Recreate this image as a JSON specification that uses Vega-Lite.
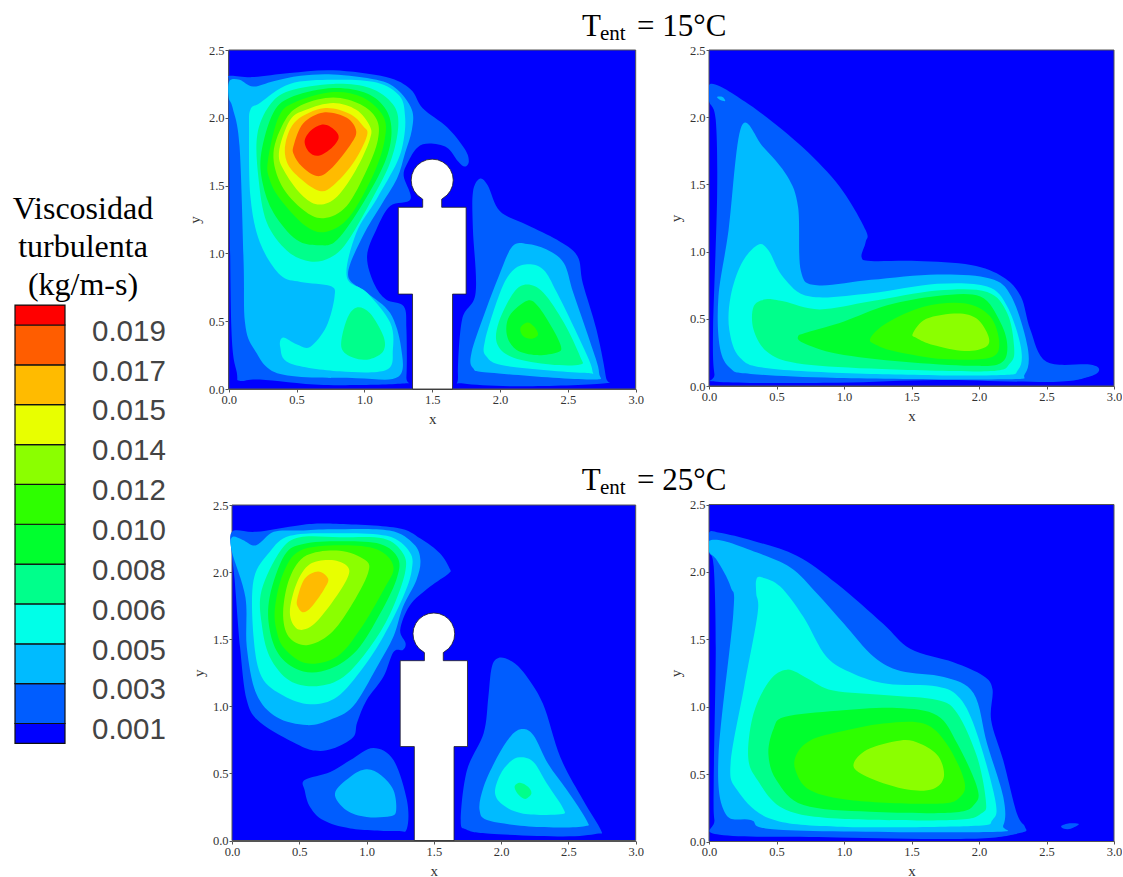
{"$schema":"https://vega.github.io/schema/vega-lite/v6.json","padding":0,"background":"white","config":{"view":{"stroke":null},"axis":{"labelFont":"Liberation Serif","labelFontSize":12.5,"labelColor":"#333","tickColor":"#555","domainColor":"#555","tickSize":3,"labelPadding":1,"labelFlush":false,"labelOverlap":false,"grid":false,"titleFont":"Liberation Serif","titleFontSize":15,"titleFontWeight":"normal","titleColor":"#333","titlePadding":6}},
"datasets":{
"frame":[{"x":0,"x2":3,"y":0,"y2":2.5}],
"fig":[{"x":1.355,"y":0},{"x":1.355,"y":0.7},{"x":1.25,"y":0.7},{"x":1.25,"y":1.34},{"x":1.43,"y":1.34},{"x":1.43,"y":1.4},{"x":1.39,"y":1.43},{"x":1.366,"y":1.462},{"x":1.35,"y":1.5},{"x":1.345,"y":1.54},{"x":1.35,"y":1.58},{"x":1.366,"y":1.618},{"x":1.39,"y":1.65},{"x":1.422,"y":1.674},{"x":1.46,"y":1.69},{"x":1.5,"y":1.695},{"x":1.54,"y":1.69},{"x":1.578,"y":1.674},{"x":1.61,"y":1.65},{"x":1.634,"y":1.618},{"x":1.65,"y":1.58},{"x":1.655,"y":1.54},{"x":1.65,"y":1.5},{"x":1.634,"y":1.462},{"x":1.61,"y":1.43},{"x":1.57,"y":1.4},{"x":1.57,"y":1.34},{"x":1.75,"y":1.34},{"x":1.75,"y":0.7},{"x":1.65,"y":0.7},{"x":1.65,"y":0},{"x":1.355,"y":0}],
"A":[
{"k":"a1","v":0.001,"x":0,"y":2.28},{"k":"a1","v":0.001,"x":0.01,"y":2.31},{"k":"a1","v":0.001,"x":0.18,"y":2.3},{"k":"a1","v":0.001,"x":0.45,"y":2.33},{"k":"a1","v":0.001,"x":0.77,"y":2.35},{"k":"a1","v":0.001,"x":1.16,"y":2.3},{"k":"a1","v":0.001,"x":1.34,"y":2.21},{"k":"a1","v":0.001,"x":1.43,"y":2.07},{"k":"a1","v":0.001,"x":1.61,"y":1.93},{"k":"a1","v":0.001,"x":1.74,"y":1.77},{"k":"a1","v":0.001,"x":1.77,"y":1.68},{"k":"a1","v":0.001,"x":1.74,"y":1.64},{"k":"a1","v":0.001,"x":1.69,"y":1.68},{"k":"a1","v":0.001,"x":1.61,"y":1.78},{"k":"a1","v":0.001,"x":1.48,"y":1.81},{"k":"a1","v":0.001,"x":1.39,"y":1.78},{"k":"a1","v":0.001,"x":1.32,"y":1.67},{"k":"a1","v":0.001,"x":1.29,"y":1.57},{"k":"a1","v":0.001,"x":1.34,"y":1.4},{"k":"a1","v":0.001,"x":1.19,"y":1.35},{"k":"a1","v":0.001,"x":1.09,"y":1.18},{"k":"a1","v":0.001,"x":1.02,"y":0.98},{"k":"a1","v":0.001,"x":1.07,"y":0.78},{"k":"a1","v":0.001,"x":1.16,"y":0.66},{"k":"a1","v":0.001,"x":1.29,"y":0.61},{"k":"a1","v":0.001,"x":1.31,"y":0.44},{"k":"a1","v":0.001,"x":1.31,"y":0.09},{"k":"a1","v":0.001,"x":1.28,"y":0.04},{"k":"a1","v":0.001,"x":0.7,"y":0.03},{"k":"a1","v":0.001,"x":0.23,"y":0.07},{"k":"a1","v":0.001,"x":0.08,"y":0.06},{"k":"a1","v":0.001,"x":0.06,"y":0.12},{"k":"a1","v":0.001,"x":0.02,"y":0.44},{"k":"a1","v":0.001,"x":0.005,"y":1.67},{"k":"a1","v":0.001,"x":0,"y":2.13},
{"k":"a2","v":0.001,"x":1.8,"y":1.45},{"k":"a2","v":0.001,"x":1.85,"y":1.55},{"k":"a2","v":0.001,"x":1.91,"y":1.5},{"k":"a2","v":0.001,"x":2,"y":1.31},{"k":"a2","v":0.001,"x":2.2,"y":1.21},{"k":"a2","v":0.001,"x":2.42,"y":1.1},{"k":"a2","v":0.001,"x":2.57,"y":0.98},{"k":"a2","v":0.001,"x":2.61,"y":0.78},{"k":"a2","v":0.001,"x":2.71,"y":0.44},{"k":"a2","v":0.001,"x":2.78,"y":0.09},{"k":"a2","v":0.001,"x":2.76,"y":0.04},{"k":"a2","v":0.001,"x":2.17,"y":0.02},{"k":"a2","v":0.001,"x":1.73,"y":0.04},{"k":"a2","v":0.001,"x":1.69,"y":0.09},{"k":"a2","v":0.001,"x":1.72,"y":0.51},{"k":"a2","v":0.001,"x":1.82,"y":0.71},{"k":"a2","v":0.001,"x":1.8,"y":1.18},
{"k":"a3","v":0.003,"x":0.005,"y":2.27},{"k":"a3","v":0.003,"x":0.08,"y":2.28},{"k":"a3","v":0.003,"x":0.18,"y":2.23},{"k":"a3","v":0.003,"x":0.33,"y":2.27},{"k":"a3","v":0.003,"x":0.53,"y":2.31},{"k":"a3","v":0.003,"x":0.77,"y":2.32},{"k":"a3","v":0.003,"x":1.09,"y":2.28},{"k":"a3","v":0.003,"x":1.24,"y":2.21},{"k":"a3","v":0.003,"x":1.35,"y":2.06},{"k":"a3","v":0.003,"x":1.35,"y":1.91},{"k":"a3","v":0.003,"x":1.3,"y":1.74},{"k":"a3","v":0.003,"x":1.24,"y":1.55},{"k":"a3","v":0.003,"x":1.12,"y":1.35},{"k":"a3","v":0.003,"x":0.99,"y":1.13},{"k":"a3","v":0.003,"x":0.88,"y":0.84},{"k":"a3","v":0.003,"x":1.02,"y":0.71},{"k":"a3","v":0.003,"x":1.19,"y":0.56},{"k":"a3","v":0.003,"x":1.27,"y":0.31},{"k":"a3","v":0.003,"x":1.25,"y":0.09},{"k":"a3","v":0.003,"x":0.94,"y":0.08},{"k":"a3","v":0.003,"x":0.38,"y":0.11},{"k":"a3","v":0.003,"x":0.19,"y":0.29},{"k":"a3","v":0.003,"x":0.12,"y":0.49},{"k":"a3","v":0.003,"x":0.11,"y":0.93},{"k":"a3","v":0.003,"x":0.08,"y":1.79},{"k":"a3","v":0.003,"x":0.03,"y":2.07},{"k":"a3","v":0.003,"x":0,"y":2.15},
{"k":"a4","v":0.003,"x":2.09,"y":1.05},{"k":"a4","v":0.003,"x":2.2,"y":1.07},{"k":"a4","v":0.003,"x":2.34,"y":1.03},{"k":"a4","v":0.003,"x":2.47,"y":0.93},{"k":"a4","v":0.003,"x":2.54,"y":0.71},{"k":"a4","v":0.003,"x":2.66,"y":0.36},{"k":"a4","v":0.003,"x":2.73,"y":0.12},{"k":"a4","v":0.003,"x":2.66,"y":0.07},{"k":"a4","v":0.003,"x":1.93,"y":0.12},{"k":"a4","v":0.003,"x":1.8,"y":0.155},{"k":"a4","v":0.003,"x":1.79,"y":0.27},{"k":"a4","v":0.003,"x":1.88,"y":0.54},{"k":"a4","v":0.003,"x":1.99,"y":0.83},
{"k":"a5","v":0.005,"x":0.16,"y":2.06},{"k":"a5","v":0.005,"x":0.23,"y":2.11},{"k":"a5","v":0.005,"x":0.45,"y":2.25},{"k":"a5","v":0.005,"x":0.77,"y":2.28},{"k":"a5","v":0.005,"x":1.09,"y":2.26},{"k":"a5","v":0.005,"x":1.26,"y":2.16},{"k":"a5","v":0.005,"x":1.3,"y":2.01},{"k":"a5","v":0.005,"x":1.29,"y":1.84},{"k":"a5","v":0.005,"x":1.24,"y":1.67},{"k":"a5","v":0.005,"x":1.09,"y":1.4},{"k":"a5","v":0.005,"x":0.94,"y":1.15},{"k":"a5","v":0.005,"x":0.87,"y":0.83},{"k":"a5","v":0.005,"x":1.02,"y":0.71},{"k":"a5","v":0.005,"x":1.19,"y":0.49},{"k":"a5","v":0.005,"x":1.21,"y":0.29},{"k":"a5","v":0.005,"x":1.16,"y":0.14},{"k":"a5","v":0.005,"x":0.82,"y":0.13},{"k":"a5","v":0.005,"x":0.45,"y":0.19},{"k":"a5","v":0.005,"x":0.38,"y":0.31},{"k":"a5","v":0.005,"x":0.4,"y":0.38},{"k":"a5","v":0.005,"x":0.5,"y":0.33},{"k":"a5","v":0.005,"x":0.6,"y":0.31},{"k":"a5","v":0.005,"x":0.72,"y":0.46},{"k":"a5","v":0.005,"x":0.78,"y":0.68},{"k":"a5","v":0.005,"x":0.75,"y":0.76},{"k":"a5","v":0.005,"x":0.53,"y":0.79},{"k":"a5","v":0.005,"x":0.38,"y":0.84},{"k":"a5","v":0.005,"x":0.23,"y":1.08},{"k":"a5","v":0.005,"x":0.16,"y":1.42},{"k":"a5","v":0.005,"x":0.15,"y":1.91},
{"k":"a6","v":0.005,"x":2.2,"y":0.92},{"k":"a6","v":0.005,"x":2.32,"y":0.88},{"k":"a6","v":0.005,"x":2.42,"y":0.71},{"k":"a6","v":0.005,"x":2.59,"y":0.36},{"k":"a6","v":0.005,"x":2.68,"y":0.14},{"k":"a6","v":0.005,"x":2.61,"y":0.12},{"k":"a6","v":0.005,"x":2.05,"y":0.17},{"k":"a6","v":0.005,"x":1.9,"y":0.24},{"k":"a6","v":0.005,"x":1.89,"y":0.36},{"k":"a6","v":0.005,"x":2,"y":0.71},{"k":"a6","v":0.005,"x":2.09,"y":0.87},
{"k":"a7","v":0.006,"x":0.21,"y":1.87},{"k":"a7","v":0.006,"x":0.3,"y":2.09},{"k":"a7","v":0.006,"x":0.45,"y":2.2},{"k":"a7","v":0.006,"x":0.77,"y":2.25},{"k":"a7","v":0.006,"x":1.04,"y":2.22},{"k":"a7","v":0.006,"x":1.21,"y":2.1},{"k":"a7","v":0.006,"x":1.25,"y":1.94},{"k":"a7","v":0.006,"x":1.19,"y":1.67},{"k":"a7","v":0.006,"x":1.04,"y":1.37},{"k":"a7","v":0.006,"x":0.87,"y":1.08},{"k":"a7","v":0.006,"x":0.75,"y":0.97},{"k":"a7","v":0.006,"x":0.6,"y":0.94},{"k":"a7","v":0.006,"x":0.43,"y":1.02},{"k":"a7","v":0.006,"x":0.28,"y":1.23},{"k":"a7","v":0.006,"x":0.22,"y":1.55},
{"k":"a8","v":0.006,"x":0.94,"y":0.6},{"k":"a8","v":0.006,"x":1.04,"y":0.56},{"k":"a8","v":0.006,"x":1.14,"y":0.39},{"k":"a8","v":0.006,"x":1.14,"y":0.28},{"k":"a8","v":0.006,"x":1.04,"y":0.22},{"k":"a8","v":0.006,"x":0.92,"y":0.23},{"k":"a8","v":0.006,"x":0.83,"y":0.31},{"k":"a8","v":0.006,"x":0.87,"y":0.51},
{"k":"a9","v":0.006,"x":2.2,"y":0.77},{"k":"a9","v":0.006,"x":2.32,"y":0.71},{"k":"a9","v":0.006,"x":2.47,"y":0.49},{"k":"a9","v":0.006,"x":2.59,"y":0.24},{"k":"a9","v":0.006,"x":2.59,"y":0.18},{"k":"a9","v":0.006,"x":2.37,"y":0.18},{"k":"a9","v":0.006,"x":2.1,"y":0.23},{"k":"a9","v":0.006,"x":1.98,"y":0.33},{"k":"a9","v":0.006,"x":1.99,"y":0.49},{"k":"a9","v":0.006,"x":2.1,"y":0.71},
{"k":"a10","v":0.008,"x":0.24,"y":1.74},{"k":"a10","v":0.008,"x":0.33,"y":2.04},{"k":"a10","v":0.008,"x":0.48,"y":2.16},{"k":"a10","v":0.008,"x":0.77,"y":2.22},{"k":"a10","v":0.008,"x":1.02,"y":2.18},{"k":"a10","v":0.008,"x":1.16,"y":2.06},{"k":"a10","v":0.008,"x":1.2,"y":1.89},{"k":"a10","v":0.008,"x":1.15,"y":1.67},{"k":"a10","v":0.008,"x":0.99,"y":1.37},{"k":"a10","v":0.008,"x":0.8,"y":1.1},{"k":"a10","v":0.008,"x":0.67,"y":1.06},{"k":"a10","v":0.008,"x":0.5,"y":1.1},{"k":"a10","v":0.008,"x":0.33,"y":1.3},{"k":"a10","v":0.008,"x":0.25,"y":1.52},
{"k":"a11","v":0.008,"x":2.2,"y":0.65},{"k":"a11","v":0.008,"x":2.28,"y":0.61},{"k":"a11","v":0.008,"x":2.39,"y":0.44},{"k":"a11","v":0.008,"x":2.45,"y":0.31},{"k":"a11","v":0.008,"x":2.42,"y":0.27},{"k":"a11","v":0.008,"x":2.27,"y":0.25},{"k":"a11","v":0.008,"x":2.12,"y":0.29},{"k":"a11","v":0.008,"x":2.05,"y":0.4},{"k":"a11","v":0.008,"x":2.07,"y":0.54},
{"k":"a12","v":0.01,"x":0.29,"y":1.69},{"k":"a12","v":0.01,"x":0.37,"y":2.01},{"k":"a12","v":0.01,"x":0.5,"y":2.12},{"k":"a12","v":0.01,"x":0.77,"y":2.19},{"k":"a12","v":0.01,"x":0.99,"y":2.15},{"k":"a12","v":0.01,"x":1.14,"y":2.01},{"k":"a12","v":0.01,"x":1.15,"y":1.84},{"k":"a12","v":0.01,"x":1.07,"y":1.59},{"k":"a12","v":0.01,"x":0.89,"y":1.27},{"k":"a12","v":0.01,"x":0.72,"y":1.16},{"k":"a12","v":0.01,"x":0.57,"y":1.2},{"k":"a12","v":0.01,"x":0.38,"y":1.4},{"k":"a12","v":0.01,"x":0.3,"y":1.55},
{"k":"a13","v":0.01,"x":2.2,"y":0.49},{"k":"a13","v":0.01,"x":2.25,"y":0.46},{"k":"a13","v":0.01,"x":2.28,"y":0.4},{"k":"a13","v":0.01,"x":2.23,"y":0.37},{"k":"a13","v":0.01,"x":2.17,"y":0.39},{"k":"a13","v":0.01,"x":2.15,"y":0.45},
{"k":"a14","v":0.012,"x":0.33,"y":1.74},{"k":"a14","v":0.012,"x":0.42,"y":1.99},{"k":"a14","v":0.012,"x":0.55,"y":2.1},{"k":"a14","v":0.012,"x":0.77,"y":2.15},{"k":"a14","v":0.012,"x":0.97,"y":2.1},{"k":"a14","v":0.012,"x":1.09,"y":1.99},{"k":"a14","v":0.012,"x":1.1,"y":1.84},{"k":"a14","v":0.012,"x":1.02,"y":1.62},{"k":"a14","v":0.012,"x":0.87,"y":1.35},{"k":"a14","v":0.012,"x":0.7,"y":1.26},{"k":"a14","v":0.012,"x":0.55,"y":1.32},{"k":"a14","v":0.012,"x":0.39,"y":1.5},
{"k":"a15","v":0.014,"x":0.37,"y":1.74},{"k":"a15","v":0.014,"x":0.45,"y":1.98},{"k":"a15","v":0.014,"x":0.57,"y":2.06},{"k":"a15","v":0.014,"x":0.77,"y":2.11},{"k":"a15","v":0.014,"x":0.94,"y":2.06},{"k":"a15","v":0.014,"x":1.04,"y":1.94},{"k":"a15","v":0.014,"x":1.04,"y":1.84},{"k":"a15","v":0.014,"x":0.94,"y":1.62},{"k":"a15","v":0.014,"x":0.8,"y":1.42},{"k":"a15","v":0.014,"x":0.67,"y":1.36},{"k":"a15","v":0.014,"x":0.55,"y":1.42},{"k":"a15","v":0.014,"x":0.42,"y":1.59},
{"k":"a16","v":0.015,"x":0.42,"y":1.82},{"k":"a16","v":0.015,"x":0.5,"y":1.98},{"k":"a16","v":0.015,"x":0.7,"y":2.07},{"k":"a16","v":0.015,"x":0.89,"y":2.03},{"k":"a16","v":0.015,"x":0.99,"y":1.94},{"k":"a16","v":0.015,"x":1.02,"y":1.87},{"k":"a16","v":0.015,"x":0.92,"y":1.67},{"k":"a16","v":0.015,"x":0.77,"y":1.5},{"k":"a16","v":0.015,"x":0.67,"y":1.46},{"k":"a16","v":0.015,"x":0.53,"y":1.55},{"k":"a16","v":0.015,"x":0.43,"y":1.67},
{"k":"a17","v":0.017,"x":0.48,"y":1.8},{"k":"a17","v":0.017,"x":0.55,"y":1.96},{"k":"a17","v":0.017,"x":0.7,"y":2.04},{"k":"a17","v":0.017,"x":0.87,"y":2},{"k":"a17","v":0.017,"x":0.94,"y":1.9},{"k":"a17","v":0.017,"x":0.89,"y":1.79},{"k":"a17","v":0.017,"x":0.75,"y":1.62},{"k":"a17","v":0.017,"x":0.65,"y":1.57},{"k":"a17","v":0.017,"x":0.54,"y":1.64},{"k":"a17","v":0.017,"x":0.48,"y":1.73},
{"k":"a18","v":0.019,"x":0.56,"y":1.83},{"k":"a18","v":0.019,"x":0.61,"y":1.91},{"k":"a18","v":0.019,"x":0.7,"y":1.95},{"k":"a18","v":0.019,"x":0.78,"y":1.91},{"k":"a18","v":0.019,"x":0.81,"y":1.85},{"k":"a18","v":0.019,"x":0.75,"y":1.77},{"k":"a18","v":0.019,"x":0.66,"y":1.72},{"k":"a18","v":0.019,"x":0.59,"y":1.75}
],
"B":[
{"k":"b1","v":0.001,"x":0,"y":2.24},{"k":"b1","v":0.001,"x":0.08,"y":2.23},{"k":"b1","v":0.001,"x":0.23,"y":2.14},{"k":"b1","v":0.001,"x":0.4,"y":2.02},{"k":"b1","v":0.001,"x":0.7,"y":1.77},{"k":"b1","v":0.001,"x":0.97,"y":1.48},{"k":"b1","v":0.001,"x":1.16,"y":1.16},{"k":"b1","v":0.001,"x":1.16,"y":1.07},{"k":"b1","v":0.001,"x":1.13,"y":0.96},{"k":"b1","v":0.001,"x":1.2,"y":0.93},{"k":"b1","v":0.001,"x":1.54,"y":0.93},{"k":"b1","v":0.001,"x":1.94,"y":0.9},{"k":"b1","v":0.001,"x":2.18,"y":0.81},{"k":"b1","v":0.001,"x":2.31,"y":0.665},{"k":"b1","v":0.001,"x":2.38,"y":0.42},{"k":"b1","v":0.001,"x":2.5,"y":0.18},{"k":"b1","v":0.001,"x":2.82,"y":0.16},{"k":"b1","v":0.001,"x":2.89,"y":0.12},{"k":"b1","v":0.001,"x":2.82,"y":0.07},{"k":"b1","v":0.001,"x":2.55,"y":0.03},{"k":"b1","v":0.001,"x":1.69,"y":0.045},{"k":"b1","v":0.001,"x":0.95,"y":0.025},{"k":"b1","v":0.001,"x":0.08,"y":0.03},{"k":"b1","v":0.001,"x":0.04,"y":0.09},{"k":"b1","v":0.001,"x":0.03,"y":0.42},{"k":"b1","v":0.001,"x":0.06,"y":1.41},{"k":"b1","v":0.001,"x":0.05,"y":1.98},{"k":"b1","v":0.001,"x":0,"y":2.12},
{"k":"b2","v":0.003,"x":0.24,"y":1.93},{"k":"b2","v":0.003,"x":0.4,"y":1.78},{"k":"b2","v":0.003,"x":0.58,"y":1.56},{"k":"b2","v":0.003,"x":0.66,"y":1.33},{"k":"b2","v":0.003,"x":0.68,"y":0.86},{"k":"b2","v":0.003,"x":0.8,"y":0.75},{"k":"b2","v":0.003,"x":1.2,"y":0.79},{"k":"b2","v":0.003,"x":1.69,"y":0.83},{"k":"b2","v":0.003,"x":2.08,"y":0.8},{"k":"b2","v":0.003,"x":2.24,"y":0.665},{"k":"b2","v":0.003,"x":2.36,"y":0.29},{"k":"b2","v":0.003,"x":2.34,"y":0.09},{"k":"b2","v":0.003,"x":2.18,"y":0.05},{"k":"b2","v":0.003,"x":0.95,"y":0.06},{"k":"b2","v":0.003,"x":0.31,"y":0.09},{"k":"b2","v":0.003,"x":0.16,"y":0.13},{"k":"b2","v":0.003,"x":0.08,"y":0.29},{"k":"b2","v":0.003,"x":0.07,"y":0.665},{"k":"b2","v":0.003,"x":0.145,"y":1.16},
{"k":"b3","v":0.003,"x":0.06,"y":2.15},{"k":"b3","v":0.003,"x":0.1,"y":2.15},{"k":"b3","v":0.003,"x":0.12,"y":2.12},{"k":"b3","v":0.003,"x":0.08,"y":2.13},
{"k":"b4","v":0.005,"x":0.36,"y":1.05},{"k":"b4","v":0.005,"x":0.44,"y":1.01},{"k":"b4","v":0.005,"x":0.55,"y":0.81},{"k":"b4","v":0.005,"x":0.75,"y":0.665},{"k":"b4","v":0.005,"x":1.2,"y":0.69},{"k":"b4","v":0.005,"x":1.69,"y":0.76},{"k":"b4","v":0.005,"x":2.06,"y":0.74},{"k":"b4","v":0.005,"x":2.21,"y":0.59},{"k":"b4","v":0.005,"x":2.31,"y":0.29},{"k":"b4","v":0.005,"x":2.29,"y":0.12},{"k":"b4","v":0.005,"x":2.13,"y":0.08},{"k":"b4","v":0.005,"x":1.2,"y":0.09},{"k":"b4","v":0.005,"x":0.45,"y":0.13},{"k":"b4","v":0.005,"x":0.23,"y":0.21},{"k":"b4","v":0.005,"x":0.15,"y":0.42},{"k":"b4","v":0.005,"x":0.16,"y":0.665},{"k":"b4","v":0.005,"x":0.24,"y":0.91},
{"k":"b5","v":0.006,"x":0.42,"y":0.645},{"k":"b5","v":0.006,"x":0.55,"y":0.63},{"k":"b5","v":0.006,"x":0.82,"y":0.57},{"k":"b5","v":0.006,"x":1.2,"y":0.63},{"k":"b5","v":0.006,"x":1.69,"y":0.71},{"k":"b5","v":0.006,"x":2.06,"y":0.7},{"k":"b5","v":0.006,"x":2.21,"y":0.54},{"k":"b5","v":0.006,"x":2.26,"y":0.29},{"k":"b5","v":0.006,"x":2.23,"y":0.17},{"k":"b5","v":0.006,"x":2.06,"y":0.11},{"k":"b5","v":0.006,"x":1.2,"y":0.13},{"k":"b5","v":0.006,"x":0.65,"y":0.17},{"k":"b5","v":0.006,"x":0.43,"y":0.255},{"k":"b5","v":0.006,"x":0.33,"y":0.42},{"k":"b5","v":0.006,"x":0.33,"y":0.59},
{"k":"b6","v":0.008,"x":0.66,"y":0.37},{"k":"b6","v":0.008,"x":0.73,"y":0.4},{"k":"b6","v":0.008,"x":1,"y":0.48},{"k":"b6","v":0.008,"x":1.32,"y":0.6},{"k":"b6","v":0.008,"x":1.69,"y":0.67},{"k":"b6","v":0.008,"x":2.01,"y":0.665},{"k":"b6","v":0.008,"x":2.16,"y":0.47},{"k":"b6","v":0.008,"x":2.21,"y":0.29},{"k":"b6","v":0.008,"x":2.16,"y":0.17},{"k":"b6","v":0.008,"x":1.94,"y":0.15},{"k":"b6","v":0.008,"x":1.44,"y":0.18},{"k":"b6","v":0.008,"x":0.95,"y":0.24},{"k":"b6","v":0.008,"x":0.7,"y":0.32},
{"k":"b7","v":0.01,"x":1.195,"y":0.355},{"k":"b7","v":0.01,"x":1.32,"y":0.47},{"k":"b7","v":0.01,"x":1.59,"y":0.59},{"k":"b7","v":0.01,"x":1.89,"y":0.615},{"k":"b7","v":0.01,"x":2.08,"y":0.52},{"k":"b7","v":0.01,"x":2.15,"y":0.32},{"k":"b7","v":0.01,"x":2.08,"y":0.21},{"k":"b7","v":0.01,"x":1.74,"y":0.2},{"k":"b7","v":0.01,"x":1.39,"y":0.255},{"k":"b7","v":0.01,"x":1.24,"y":0.305},
{"k":"b8","v":0.012,"x":1.51,"y":0.39},{"k":"b8","v":0.012,"x":1.61,"y":0.5},{"k":"b8","v":0.012,"x":1.84,"y":0.54},{"k":"b8","v":0.012,"x":1.985,"y":0.5},{"k":"b8","v":0.012,"x":2.07,"y":0.37},{"k":"b8","v":0.012,"x":2.05,"y":0.29},{"k":"b8","v":0.012,"x":1.89,"y":0.26},{"k":"b8","v":0.012,"x":1.66,"y":0.305},{"k":"b8","v":0.012,"x":1.54,"y":0.355}
],
"C":[
{"k":"c1","v":0.001,"x":0,"y":2.3},{"k":"c1","v":0.001,"x":0.18,"y":2.3},{"k":"c1","v":0.001,"x":0.505,"y":2.35},{"k":"c1","v":0.001,"x":0.75,"y":2.36},{"k":"c1","v":0.001,"x":1.22,"y":2.33},{"k":"c1","v":0.001,"x":1.4,"y":2.25},{"k":"c1","v":0.001,"x":1.545,"y":2.14},{"k":"c1","v":0.001,"x":1.615,"y":2.03},{"k":"c1","v":0.001,"x":1.61,"y":1.99},{"k":"c1","v":0.001,"x":1.47,"y":1.89},{"k":"c1","v":0.001,"x":1.32,"y":1.75},{"k":"c1","v":0.001,"x":1.25,"y":1.57},{"k":"c1","v":0.001,"x":1.29,"y":1.47},{"k":"c1","v":0.001,"x":1.27,"y":1.42},{"k":"c1","v":0.001,"x":1.2,"y":1.405},{"k":"c1","v":0.001,"x":1.125,"y":1.22},{"k":"c1","v":0.001,"x":1,"y":1.045},{"k":"c1","v":0.001,"x":0.93,"y":0.88},{"k":"c1","v":0.001,"x":0.9,"y":0.77},{"k":"c1","v":0.001,"x":0.75,"y":0.685},{"k":"c1","v":0.001,"x":0.62,"y":0.67},{"k":"c1","v":0.001,"x":0.48,"y":0.72},{"k":"c1","v":0.001,"x":0.21,"y":0.88},{"k":"c1","v":0.001,"x":0.11,"y":1.045},{"k":"c1","v":0.001,"x":0.06,"y":1.44},{"k":"c1","v":0.001,"x":0.02,"y":1.94},{"k":"c1","v":0.001,"x":0,"y":2.125},
{"k":"c2","v":0.001,"x":0.54,"y":0.45},{"k":"c2","v":0.001,"x":0.73,"y":0.51},{"k":"c2","v":0.001,"x":0.88,"y":0.6},{"k":"c2","v":0.001,"x":1.05,"y":0.69},{"k":"c2","v":0.001,"x":1.2,"y":0.6},{"k":"c2","v":0.001,"x":1.3,"y":0.3},{"k":"c2","v":0.001,"x":1.3,"y":0.09},{"k":"c2","v":0.001,"x":1.22,"y":0.07},{"k":"c2","v":0.001,"x":0.88,"y":0.09},{"k":"c2","v":0.001,"x":0.68,"y":0.15},{"k":"c2","v":0.001,"x":0.58,"y":0.25},{"k":"c2","v":0.001,"x":0.54,"y":0.375},
{"k":"c3","v":0.001,"x":1.93,"y":1.29},{"k":"c3","v":0.001,"x":1.98,"y":1.36},{"k":"c3","v":0.001,"x":2.07,"y":1.34},{"k":"c3","v":0.001,"x":2.165,"y":1.255},{"k":"c3","v":0.001,"x":2.31,"y":1.02},{"k":"c3","v":0.001,"x":2.44,"y":0.62},{"k":"c3","v":0.001,"x":2.61,"y":0.3},{"k":"c3","v":0.001,"x":2.74,"y":0.08},{"k":"c3","v":0.001,"x":2.71,"y":0.05},{"k":"c3","v":0.001,"x":2.46,"y":0.03},{"k":"c3","v":0.001,"x":1.92,"y":0.05},{"k":"c3","v":0.001,"x":1.745,"y":0.08},{"k":"c3","v":0.001,"x":1.7,"y":0.15},{"k":"c3","v":0.001,"x":1.745,"y":0.52},{"k":"c3","v":0.001,"x":1.87,"y":0.8},{"k":"c3","v":0.001,"x":1.905,"y":1.07},
{"k":"c4","v":0.003,"x":0,"y":2.26},{"k":"c4","v":0.003,"x":0.08,"y":2.24},{"k":"c4","v":0.003,"x":0.18,"y":2.2},{"k":"c4","v":0.003,"x":0.31,"y":2.3},{"k":"c4","v":0.003,"x":0.505,"y":2.31},{"k":"c4","v":0.003,"x":0.75,"y":2.32},{"k":"c4","v":0.003,"x":1.17,"y":2.31},{"k":"c4","v":0.003,"x":1.35,"y":2.21},{"k":"c4","v":0.003,"x":1.4,"y":2.09},{"k":"c4","v":0.003,"x":1.37,"y":1.94},{"k":"c4","v":0.003,"x":1.27,"y":1.74},{"k":"c4","v":0.003,"x":1.2,"y":1.52},{"k":"c4","v":0.003,"x":1.075,"y":1.29},{"k":"c4","v":0.003,"x":0.9,"y":1},{"k":"c4","v":0.003,"x":0.73,"y":0.9},{"k":"c4","v":0.003,"x":0.555,"y":0.86},{"k":"c4","v":0.003,"x":0.33,"y":0.92},{"k":"c4","v":0.003,"x":0.18,"y":1.095},{"k":"c4","v":0.003,"x":0.11,"y":1.44},{"k":"c4","v":0.003,"x":0.1,"y":1.81},{"k":"c4","v":0.003,"x":0,"y":2.15},
{"k":"c5","v":0.003,"x":0.765,"y":0.35},{"k":"c5","v":0.003,"x":0.88,"y":0.475},{"k":"c5","v":0.003,"x":1,"y":0.53},{"k":"c5","v":0.003,"x":1.11,"y":0.485},{"k":"c5","v":0.003,"x":1.2,"y":0.375},{"k":"c5","v":0.003,"x":1.22,"y":0.225},{"k":"c5","v":0.003,"x":1.175,"y":0.18},{"k":"c5","v":0.003,"x":1,"y":0.175},{"k":"c5","v":0.003,"x":0.85,"y":0.225},
{"k":"c6","v":0.003,"x":2.065,"y":0.77},{"k":"c6","v":0.003,"x":2.15,"y":0.83},{"k":"c6","v":0.003,"x":2.24,"y":0.785},{"k":"c6","v":0.003,"x":2.35,"y":0.57},{"k":"c6","v":0.003,"x":2.49,"y":0.375},{"k":"c6","v":0.003,"x":2.635,"y":0.15},{"k":"c6","v":0.003,"x":2.61,"y":0.105},{"k":"c6","v":0.003,"x":2.29,"y":0.1},{"k":"c6","v":0.003,"x":1.92,"y":0.145},{"k":"c6","v":0.003,"x":1.84,"y":0.225},{"k":"c6","v":0.003,"x":1.87,"y":0.4},{"k":"c6","v":0.003,"x":1.97,"y":0.62},
{"k":"c7","v":0.005,"x":0.16,"y":1.94},{"k":"c7","v":0.005,"x":0.28,"y":2.15},{"k":"c7","v":0.005,"x":0.43,"y":2.27},{"k":"c7","v":0.005,"x":0.75,"y":2.29},{"k":"c7","v":0.005,"x":1.15,"y":2.27},{"k":"c7","v":0.005,"x":1.32,"y":2.15},{"k":"c7","v":0.005,"x":1.335,"y":2.01},{"k":"c7","v":0.005,"x":1.27,"y":1.81},{"k":"c7","v":0.005,"x":1.125,"y":1.52},{"k":"c7","v":0.005,"x":0.975,"y":1.29},{"k":"c7","v":0.005,"x":0.78,"y":1.07},{"k":"c7","v":0.005,"x":0.58,"y":1.015},{"k":"c7","v":0.005,"x":0.38,"y":1.08},{"k":"c7","v":0.005,"x":0.22,"y":1.22},{"k":"c7","v":0.005,"x":0.16,"y":1.52},
{"k":"c8","v":0.005,"x":2.065,"y":0.585},{"k":"c8","v":0.005,"x":2.14,"y":0.62},{"k":"c8","v":0.005,"x":2.24,"y":0.585},{"k":"c8","v":0.005,"x":2.34,"y":0.425},{"k":"c8","v":0.005,"x":2.46,"y":0.24},{"k":"c8","v":0.005,"x":2.44,"y":0.195},{"k":"c8","v":0.005,"x":2.165,"y":0.2},{"k":"c8","v":0.005,"x":2.02,"y":0.26},{"k":"c8","v":0.005,"x":1.955,"y":0.35},{"k":"c8","v":0.005,"x":1.99,"y":0.485},
{"k":"c9","v":0.006,"x":0.22,"y":1.865},{"k":"c9","v":0.006,"x":0.36,"y":2.16},{"k":"c9","v":0.006,"x":0.505,"y":2.26},{"k":"c9","v":0.006,"x":0.8,"y":2.26},{"k":"c9","v":0.006,"x":1.125,"y":2.25},{"k":"c9","v":0.006,"x":1.27,"y":2.14},{"k":"c9","v":0.006,"x":1.285,"y":1.99},{"k":"c9","v":0.006,"x":1.175,"y":1.69},{"k":"c9","v":0.006,"x":1.025,"y":1.44},{"k":"c9","v":0.006,"x":0.83,"y":1.22},{"k":"c9","v":0.006,"x":0.63,"y":1.15},{"k":"c9","v":0.006,"x":0.43,"y":1.19},{"k":"c9","v":0.006,"x":0.28,"y":1.37},{"k":"c9","v":0.006,"x":0.22,"y":1.62},
{"k":"c10","v":0.006,"x":2.1,"y":0.4},{"k":"c10","v":0.006,"x":2.14,"y":0.43},{"k":"c10","v":0.006,"x":2.2,"y":0.4},{"k":"c10","v":0.006,"x":2.225,"y":0.35},{"k":"c10","v":0.006,"x":2.18,"y":0.31},{"k":"c10","v":0.006,"x":2.13,"y":0.34},
{"k":"c11","v":0.008,"x":0.28,"y":1.815},{"k":"c11","v":0.008,"x":0.39,"y":2.125},{"k":"c11","v":0.008,"x":0.53,"y":2.21},{"k":"c11","v":0.008,"x":0.8,"y":2.23},{"k":"c11","v":0.008,"x":1.1,"y":2.21},{"k":"c11","v":0.008,"x":1.235,"y":2.1},{"k":"c11","v":0.008,"x":1.22,"y":1.94},{"k":"c11","v":0.008,"x":1.1,"y":1.69},{"k":"c11","v":0.008,"x":0.93,"y":1.42},{"k":"c11","v":0.008,"x":0.73,"y":1.28},{"k":"c11","v":0.008,"x":0.53,"y":1.26},{"k":"c11","v":0.008,"x":0.36,"y":1.37},{"k":"c11","v":0.008,"x":0.28,"y":1.57},
{"k":"c12","v":0.01,"x":0.32,"y":1.74},{"k":"c12","v":0.01,"x":0.38,"y":1.99},{"k":"c12","v":0.01,"x":0.505,"y":2.16},{"k":"c12","v":0.01,"x":0.8,"y":2.2},{"k":"c12","v":0.01,"x":1.075,"y":2.17},{"k":"c12","v":0.01,"x":1.2,"y":2.04},{"k":"c12","v":0.01,"x":1.125,"y":1.865},{"k":"c12","v":0.01,"x":0.95,"y":1.57},{"k":"c12","v":0.01,"x":0.78,"y":1.37},{"k":"c12","v":0.01,"x":0.555,"y":1.32},{"k":"c12","v":0.01,"x":0.39,"y":1.43},{"k":"c12","v":0.01,"x":0.33,"y":1.57},
{"k":"c13","v":0.012,"x":0.38,"y":1.7},{"k":"c13","v":0.012,"x":0.43,"y":1.96},{"k":"c13","v":0.012,"x":0.555,"y":2.125},{"k":"c13","v":0.012,"x":0.8,"y":2.16},{"k":"c13","v":0.012,"x":0.99,"y":2.09},{"k":"c13","v":0.012,"x":1.01,"y":1.99},{"k":"c13","v":0.012,"x":0.88,"y":1.74},{"k":"c13","v":0.012,"x":0.73,"y":1.54},{"k":"c13","v":0.012,"x":0.555,"y":1.455},{"k":"c13","v":0.012,"x":0.42,"y":1.52},
{"k":"c14","v":0.014,"x":0.43,"y":1.7},{"k":"c14","v":0.014,"x":0.48,"y":1.915},{"k":"c14","v":0.014,"x":0.58,"y":2.06},{"k":"c14","v":0.014,"x":0.74,"y":2.09},{"k":"c14","v":0.014,"x":0.86,"y":2.04},{"k":"c14","v":0.014,"x":0.85,"y":1.94},{"k":"c14","v":0.014,"x":0.7,"y":1.715},{"k":"c14","v":0.014,"x":0.58,"y":1.59},{"k":"c14","v":0.014,"x":0.48,"y":1.58},
{"k":"c15","v":0.015,"x":0.485,"y":1.8},{"k":"c15","v":0.015,"x":0.54,"y":1.95},{"k":"c15","v":0.015,"x":0.64,"y":2.005},{"k":"c15","v":0.015,"x":0.715,"y":1.95},{"k":"c15","v":0.015,"x":0.68,"y":1.865},{"k":"c15","v":0.015,"x":0.59,"y":1.74},{"k":"c15","v":0.015,"x":0.53,"y":1.7},{"k":"c15","v":0.015,"x":0.49,"y":1.74}
],
"D":[
{"k":"d1","v":0.001,"x":0,"y":2.29},{"k":"d1","v":0.001,"x":0.08,"y":2.29},{"k":"d1","v":0.001,"x":0.33,"y":2.23},{"k":"d1","v":0.001,"x":0.65,"y":2.12},{"k":"d1","v":0.001,"x":0.95,"y":1.91},{"k":"d1","v":0.001,"x":1.29,"y":1.615},{"k":"d1","v":0.001,"x":1.49,"y":1.43},{"k":"d1","v":0.001,"x":1.81,"y":1.33},{"k":"d1","v":0.001,"x":2.03,"y":1.23},{"k":"d1","v":0.001,"x":2.1,"y":1.13},{"k":"d1","v":0.001,"x":2.09,"y":0.9},{"k":"d1","v":0.001,"x":2.18,"y":0.6},{"k":"d1","v":0.001,"x":2.28,"y":0.21},{"k":"d1","v":0.001,"x":2.34,"y":0.11},{"k":"d1","v":0.001,"x":2.31,"y":0.065},{"k":"d1","v":0.001,"x":1.94,"y":0.02},{"k":"d1","v":0.001,"x":0.95,"y":0.03},{"k":"d1","v":0.001,"x":0.08,"y":0.05},{"k":"d1","v":0.001,"x":0.04,"y":0.16},{"k":"d1","v":0.001,"x":0.035,"y":0.455},{"k":"d1","v":0.001,"x":0.05,"y":1.44},{"k":"d1","v":0.001,"x":0.035,"y":2.04},{"k":"d1","v":0.001,"x":0,"y":2.15},
{"k":"d2","v":0.001,"x":2.61,"y":0.115},{"k":"d2","v":0.001,"x":2.67,"y":0.135},{"k":"d2","v":0.001,"x":2.74,"y":0.13},{"k":"d2","v":0.001,"x":2.68,"y":0.095},{"k":"d2","v":0.001,"x":2.63,"y":0.095},
{"k":"d3","v":0.003,"x":0,"y":2.23},{"k":"d3","v":0.003,"x":0.11,"y":2.23},{"k":"d3","v":0.003,"x":0.31,"y":2.16},{"k":"d3","v":0.003,"x":0.6,"y":2.035},{"k":"d3","v":0.003,"x":0.8,"y":1.84},{"k":"d3","v":0.003,"x":1,"y":1.615},{"k":"d3","v":0.003,"x":1.22,"y":1.37},{"k":"d3","v":0.003,"x":1.42,"y":1.265},{"k":"d3","v":0.003,"x":1.74,"y":1.22},{"k":"d3","v":0.003,"x":1.96,"y":1.1},{"k":"d3","v":0.003,"x":2.06,"y":0.725},{"k":"d3","v":0.003,"x":2.18,"y":0.33},{"k":"d3","v":0.003,"x":2.18,"y":0.12},{"k":"d3","v":0.003,"x":2.06,"y":0.07},{"k":"d3","v":0.003,"x":0.55,"y":0.085},{"k":"d3","v":0.003,"x":0.31,"y":0.16},{"k":"d3","v":0.003,"x":0.12,"y":0.21},{"k":"d3","v":0.003,"x":0.07,"y":0.63},{"k":"d3","v":0.003,"x":0.18,"y":1.69},{"k":"d3","v":0.003,"x":0.16,"y":1.89},{"k":"d3","v":0.003,"x":0.06,"y":2.085},{"k":"d3","v":0.003,"x":0,"y":2.15},
{"k":"d4","v":0.005,"x":0.35,"y":1.94},{"k":"d4","v":0.005,"x":0.39,"y":1.96},{"k":"d4","v":0.005,"x":0.53,"y":1.89},{"k":"d4","v":0.005,"x":0.7,"y":1.665},{"k":"d4","v":0.005,"x":0.87,"y":1.37},{"k":"d4","v":0.005,"x":1.07,"y":1.245},{"k":"d4","v":0.005,"x":1.32,"y":1.17},{"k":"d4","v":0.005,"x":1.69,"y":1.15},{"k":"d4","v":0.005,"x":1.86,"y":1.06},{"k":"d4","v":0.005,"x":1.985,"y":0.8},{"k":"d4","v":0.005,"x":2.12,"y":0.31},{"k":"d4","v":0.005,"x":2.1,"y":0.16},{"k":"d4","v":0.005,"x":1.94,"y":0.115},{"k":"d4","v":0.005,"x":0.95,"y":0.11},{"k":"d4","v":0.005,"x":0.45,"y":0.17},{"k":"d4","v":0.005,"x":0.21,"y":0.38},{"k":"d4","v":0.005,"x":0.16,"y":0.58},{"k":"d4","v":0.005,"x":0.26,"y":1.145},{"k":"d4","v":0.005,"x":0.36,"y":1.69},{"k":"d4","v":0.005,"x":0.35,"y":1.84},
{"k":"d5","v":0.006,"x":0.45,"y":1.195},{"k":"d5","v":0.006,"x":0.58,"y":1.275},{"k":"d5","v":0.006,"x":0.73,"y":1.21},{"k":"d5","v":0.006,"x":0.92,"y":1.12},{"k":"d5","v":0.006,"x":1.32,"y":1.085},{"k":"d5","v":0.006,"x":1.69,"y":1.05},{"k":"d5","v":0.006,"x":1.84,"y":0.95},{"k":"d5","v":0.006,"x":1.985,"y":0.63},{"k":"d5","v":0.006,"x":2.05,"y":0.31},{"k":"d5","v":0.006,"x":2.02,"y":0.21},{"k":"d5","v":0.006,"x":1.81,"y":0.16},{"k":"d5","v":0.006,"x":0.95,"y":0.17},{"k":"d5","v":0.006,"x":0.55,"y":0.245},{"k":"d5","v":0.006,"x":0.36,"y":0.455},{"k":"d5","v":0.006,"x":0.29,"y":0.63},{"k":"d5","v":0.006,"x":0.33,"y":0.95},
{"k":"d6","v":0.008,"x":0.565,"y":0.925},{"k":"d6","v":0.008,"x":0.95,"y":0.97},{"k":"d6","v":0.008,"x":1.39,"y":0.99},{"k":"d6","v":0.008,"x":1.69,"y":0.935},{"k":"d6","v":0.008,"x":1.84,"y":0.725},{"k":"d6","v":0.008,"x":1.985,"y":0.405},{"k":"d6","v":0.008,"x":1.97,"y":0.28},{"k":"d6","v":0.008,"x":1.81,"y":0.215},{"k":"d6","v":0.008,"x":1.195,"y":0.22},{"k":"d6","v":0.008,"x":0.7,"y":0.27},{"k":"d6","v":0.008,"x":0.5,"y":0.455},{"k":"d6","v":0.008,"x":0.44,"y":0.65},{"k":"d6","v":0.008,"x":0.48,"y":0.84},
{"k":"d7","v":0.01,"x":0.75,"y":0.75},{"k":"d7","v":0.01,"x":0.95,"y":0.81},{"k":"d7","v":0.01,"x":1.29,"y":0.875},{"k":"d7","v":0.01,"x":1.59,"y":0.875},{"k":"d7","v":0.01,"x":1.76,"y":0.725},{"k":"d7","v":0.01,"x":1.89,"y":0.455},{"k":"d7","v":0.01,"x":1.86,"y":0.33},{"k":"d7","v":0.01,"x":1.69,"y":0.28},{"k":"d7","v":0.01,"x":1.07,"y":0.305},{"k":"d7","v":0.01,"x":0.75,"y":0.38},{"k":"d7","v":0.01,"x":0.64,"y":0.53},{"k":"d7","v":0.01,"x":0.65,"y":0.65},
{"k":"d8","v":0.012,"x":1.07,"y":0.56},{"k":"d8","v":0.012,"x":1.17,"y":0.68},{"k":"d8","v":0.012,"x":1.42,"y":0.75},{"k":"d8","v":0.012,"x":1.565,"y":0.725},{"k":"d8","v":0.012,"x":1.7,"y":0.63},{"k":"d8","v":0.012,"x":1.74,"y":0.48},{"k":"d8","v":0.012,"x":1.66,"y":0.39},{"k":"d8","v":0.012,"x":1.47,"y":0.385},{"k":"d8","v":0.012,"x":1.195,"y":0.47}
]},
"hconcat":[
{"width":228,"height":877,"view":{"fill":"white","stroke":null},
"layer":[
{"data":{"values":[{"v":0,"lo":-0.5,"hi":0},{"v":0.001,"lo":0,"hi":1},{"v":0.003,"lo":1,"hi":2},{"v":0.005,"lo":2,"hi":3},{"v":0.006,"lo":3,"hi":4},{"v":0.008,"lo":4,"hi":5},{"v":0.01,"lo":5,"hi":6},{"v":0.012,"lo":6,"hi":7},{"v":0.014,"lo":7,"hi":8},{"v":0.015,"lo":8,"hi":9},{"v":0.017,"lo":9,"hi":10},{"v":0.019,"lo":10,"hi":10.5}]},
"mark":{"type":"rect","stroke":"#111","strokeWidth":1.2},
"encoding":{"x":{"datum":15,"type":"quantitative","scale":{"domain":[0,228],"range":[0,228],"nice":false,"zero":false},"axis":null},"x2":{"datum":65},"y":{"field":"lo","type":"quantitative","scale":{"domain":[-3.852,18.155],"range":[877,0],"nice":false,"zero":false},"axis":null},"y2":{"field":"hi"},"fill":{"field":"v","type":"ordinal","scale":{"domain":[0,0.001,0.003,0.005,0.006,0.008,0.01,0.012,0.014,0.015,0.017,0.019],"range":["#0000ff","#005dff","#00bbff","#00ffe8","#00ff8b","#00ff2e","#2eff00","#8bff00","#e8ff00","#ffbb00","#ff5d00","#ff0000"]},"legend":null}}},
{"data":{"values":[{"t":"0.019","p":9.83},{"t":"0.017","p":8.83},{"t":"0.015","p":7.83},{"t":"0.014","p":6.83},{"t":"0.012","p":5.83},{"t":"0.010","p":4.83},{"t":"0.008","p":3.83},{"t":"0.006","p":2.83},{"t":"0.005","p":1.83},{"t":"0.003","p":0.83},{"t":"0.001","p":-0.17}]},
"mark":{"type":"text","align":"left","baseline":"middle","font":"Liberation Sans","fontSize":29.5,"fill":"#444"},
"encoding":{"x":{"datum":92,"type":"quantitative","scale":{"domain":[0,228],"range":[0,228],"nice":false,"zero":false},"axis":null},"y":{"field":"p","type":"quantitative","scale":{"domain":[-3.852,18.155],"range":[877,0],"nice":false,"zero":false},"axis":null},"text":{"field":"t"}}},
{"data":{"values":[{"t":"Viscosidad","p":12.91},{"t":"turbulenta","p":11.96},{"t":"(kg/m-s)","p":11}]},
"mark":{"type":"text","align":"center","baseline":"middle","font":"Liberation Serif","fontSize":32,"fill":"#000"},
"encoding":{"x":{"datum":83,"type":"quantitative","scale":{"domain":[0,228],"range":[0,228],"nice":false,"zero":false},"axis":null},"y":{"field":"p","type":"quantitative","scale":{"domain":[-3.852,18.155],"range":[877,0],"nice":false,"zero":false},"axis":null},"text":{"field":"t"}}}
]},
{"bounds":"flush","spacing":505,"vconcat":[
{"bounds":"flush","spacing":73,"hconcat":[
{"width":408,"height":389,
"encoding":{"x":{"field":"x","type":"quantitative","scale":{"domain":[0,3],"range":[0.7,407.7],"nice":false,"zero":false},"axis":{"values":[0,0.5,1,1.5,2,2.5,3],"format":".1f","title":"x"}},"y":{"field":"y","type":"quantitative","scale":{"domain":[0,2.5],"range":[389,50],"nice":false,"zero":false},"axis":{"values":[0,0.5,1,1.5,2,2.5],"format":".1f","title":"y"}}},
"layer":[
{"data":{"name":"frame"},"mark":{"type":"rect","fill":"#0000ff","stroke":"#555","strokeWidth":1},"encoding":{"x2":{"field":"x2"},"y2":{"field":"y2"}}},
{"data":{"name":"A"},"mark":{"type":"line","interpolate":"cardinal-closed","tension":0,"clip":true,"stroke":null},"encoding":{"order":{"value":null},"detail":{"field":"k"},"fill":{"field":"v","type":"ordinal","scale":{"domain":[0.001,0.003,0.005,0.006,0.008,0.01,0.012,0.014,0.015,0.017,0.019],"range":["#005dff","#00bbff","#00ffe8","#00ff8b","#00ff2e","#2eff00","#8bff00","#e8ff00","#ffbb00","#ff5d00","#ff0000"]},"legend":null}}},
{"data":{"name":"fig"},"mark":{"type":"line","fill":"white","stroke":"#222","strokeWidth":0.8},"encoding":{"order":{"value":null}}},
{"data":{"values":[{"x":2.604,"y":2.6,"t":"T"},{"x":3.01,"y":2.6,"t":"= 15°C"}]},"mark":{"type":"text","align":"left","baseline":"alphabetic","font":"Liberation Serif","fontSize":31,"fill":"#000"},"encoding":{"text":{"field":"t"}}},
{"data":{"values":[{"x":2.737,"y":2.574,"t":"ent"}]},"mark":{"type":"text","align":"left","baseline":"alphabetic","font":"Liberation Serif","fontSize":21,"fill":"#000"},"encoding":{"text":{"field":"t"}}}
]},
{"width":405,"height":389,
"encoding":{"x":{"field":"x","type":"quantitative","scale":{"domain":[0,3],"range":[0,405],"nice":false,"zero":false},"axis":{"values":[0,0.5,1,1.5,2,2.5,3],"format":".1f","title":"x","offset":-3}},"y":{"field":"y","type":"quantitative","scale":{"domain":[0,2.5],"range":[386,50],"nice":false,"zero":false},"axis":{"values":[0,0.5,1,1.5,2,2.5],"format":".1f","title":"y"}}},
"layer":[
{"data":{"name":"frame"},"mark":{"type":"rect","fill":"#0000ff","stroke":"#555","strokeWidth":1},"encoding":{"x2":{"field":"x2"},"y2":{"field":"y2"}}},
{"data":{"name":"B"},"mark":{"type":"line","interpolate":"cardinal-closed","tension":0,"clip":true,"stroke":null},"encoding":{"order":{"value":null},"detail":{"field":"k"},"fill":{"field":"v","type":"ordinal","scale":{"domain":[0.001,0.003,0.005,0.006,0.008,0.01,0.012,0.014,0.015,0.017,0.019],"range":["#005dff","#00bbff","#00ffe8","#00ff8b","#00ff2e","#2eff00","#8bff00","#e8ff00","#ffbb00","#ff5d00","#ff0000"]},"legend":null}}}
]}
]},
{"bounds":"flush","spacing":73,"hconcat":[
{"width":408,"height":336,
"encoding":{"x":{"field":"x","type":"quantitative","scale":{"domain":[0,3],"range":[4,407.7],"nice":false,"zero":false},"axis":{"values":[0,0.5,1,1.5,2,2.5,3],"format":".1f","title":"x"}},"y":{"field":"y","type":"quantitative","scale":{"domain":[0,2.5],"range":[335.5,0],"nice":false,"zero":false},"axis":{"values":[0,0.5,1,1.5,2,2.5],"format":".1f","title":"y","offset":-4}}},
"layer":[
{"data":{"name":"frame"},"mark":{"type":"rect","fill":"#0000ff","stroke":"#555","strokeWidth":1},"encoding":{"x2":{"field":"x2"},"y2":{"field":"y2"}}},
{"data":{"name":"C"},"mark":{"type":"line","interpolate":"cardinal-closed","tension":0,"clip":true,"stroke":null},"encoding":{"order":{"value":null},"detail":{"field":"k"},"fill":{"field":"v","type":"ordinal","scale":{"domain":[0.001,0.003,0.005,0.006,0.008,0.01,0.012,0.014,0.015,0.017,0.019],"range":["#005dff","#00bbff","#00ffe8","#00ff8b","#00ff2e","#2eff00","#8bff00","#e8ff00","#ffbb00","#ff5d00","#ff0000"]},"legend":null}}},
{"data":{"name":"fig"},"mark":{"type":"line","fill":"white","stroke":"#222","strokeWidth":0.8},"encoding":{"order":{"value":null}}},
{"data":{"values":[{"x":2.6,"y":2.61,"t":"T"},{"x":3.01,"y":2.61,"t":"= 25°C"}]},"mark":{"type":"text","align":"left","baseline":"alphabetic","font":"Liberation Serif","fontSize":31,"fill":"#000"},"encoding":{"text":{"field":"t"}}},
{"data":{"values":[{"x":2.734,"y":2.58,"t":"ent"}]},"mark":{"type":"text","align":"left","baseline":"alphabetic","font":"Liberation Serif","fontSize":21,"fill":"#000"},"encoding":{"text":{"field":"t"}}}
]},
{"width":405,"height":336,
"encoding":{"x":{"field":"x","type":"quantitative","scale":{"domain":[0,3],"range":[0,405],"nice":false,"zero":false},"axis":{"values":[0,0.5,1,1.5,2,2.5,3],"format":".1f","title":"x"}},"y":{"field":"y","type":"quantitative","scale":{"domain":[0,2.5],"range":[336.5,-0.5],"nice":false,"zero":false},"axis":{"values":[0,0.5,1,1.5,2,2.5],"format":".1f","title":"y"}}},
"layer":[
{"data":{"name":"frame"},"mark":{"type":"rect","fill":"#0000ff","stroke":"#555","strokeWidth":1},"encoding":{"x2":{"field":"x2"},"y2":{"field":"y2"}}},
{"data":{"name":"D"},"mark":{"type":"line","interpolate":"cardinal-closed","tension":0,"clip":true,"stroke":null},"encoding":{"order":{"value":null},"detail":{"field":"k"},"fill":{"field":"v","type":"ordinal","scale":{"domain":[0.001,0.003,0.005,0.006,0.008,0.01,0.012,0.014,0.015,0.017,0.019],"range":["#005dff","#00bbff","#00ffe8","#00ff8b","#00ff2e","#2eff00","#8bff00","#e8ff00","#ffbb00","#ff5d00","#ff0000"]},"legend":null}}}
]}
]}
]}
],"spacing":0,"bounds":"flush"}
